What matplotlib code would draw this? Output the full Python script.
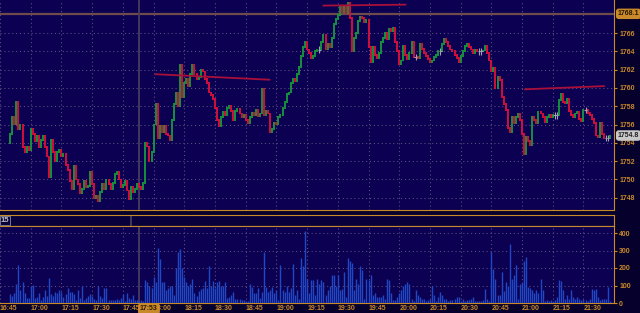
import matplotlib
matplotlib.use("Agg")
import matplotlib.pyplot as plt
import matplotlib.transforms as mtransforms
import numpy as np

# one-minute closes starting at 16:50
first_open = 1754.0
closes = [
    1755.0, 1756.8, 1756.0, 1758.5, 1755.5, 1756.0, 1753.5, 1753.0, 1753.5, 1753.2,
    1755.5, 1755.0, 1754.2, 1754.8, 1753.5, 1754.3, 1754.8, 1753.5, 1752.5, 1750.3,
    1754.3, 1753.0, 1752.0, 1753.0, 1753.2, 1752.5, 1752.8, 1751.6, 1751.0, 1749.8,
    1749.0, 1751.5, 1750.0, 1749.5, 1748.5, 1749.0, 1749.8, 1749.2, 1749.3, 1750.8,
    1749.5, 1748.0, 1748.2, 1747.6, 1748.6, 1749.5, 1749.0, 1750.0, 1749.5, 1749.0,
    1749.6, 1750.6, 1750.8, 1750.0, 1749.2, 1749.4, 1749.8, 1748.8, 1747.8, 1749.2,
    1748.6, 1749.0, 1749.5, 1749.2, 1749.0, 1749.6, 1754.0, 1753.6, 1752.0, 1753.0,
    1756.0, 1758.2, 1754.5, 1755.8, 1755.2, 1755.8, 1755.0, 1754.8, 1754.3, 1756.5,
    1758.2, 1759.5, 1758.0, 1762.5, 1759.0, 1760.5, 1761.0, 1760.2, 1761.5, 1762.5,
    1761.5, 1761.0, 1761.2, 1762.0, 1761.8, 1761.0, 1760.5, 1759.5, 1759.2, 1758.8,
    1757.8, 1756.5, 1755.8, 1756.8, 1757.4, 1757.0, 1757.8, 1758.0, 1757.5, 1756.5,
    1757.5, 1757.7, 1757.2, 1756.8, 1757.0, 1756.5, 1756.2, 1756.8, 1757.3, 1757.0,
    1757.6, 1756.9, 1757.2, 1759.9, 1757.0, 1757.5, 1757.2, 1755.2, 1755.5, 1756.2,
    1756.0, 1756.8, 1757.0, 1757.8, 1758.5, 1759.3, 1759.5, 1760.5, 1761.0, 1760.7,
    1761.5, 1762.3, 1763.5, 1764.5, 1765.0, 1764.2, 1763.8, 1763.3, 1763.5, 1764.0,
    1764.2, 1764.2, 1765.0, 1765.8, 1764.3, 1764.8, 1764.5, 1765.5, 1767.0, 1767.5,
    1768.0, 1768.8, 1768.3, 1768.9, 1768.2, 1769.3, 1767.6, 1764.0, 1765.5, 1766.0,
    1767.3, 1767.8, 1767.6, 1767.2, 1767.4, 1764.5, 1762.8, 1764.5, 1763.6, 1763.3,
    1763.8, 1765.0, 1765.5, 1766.0, 1765.3, 1766.5, 1766.2, 1766.6, 1765.0, 1764.0,
    1762.6, 1763.0, 1764.6, 1763.6, 1763.2, 1763.8, 1765.0, 1763.4, 1763.4, 1763.3,
    1764.8, 1764.3, 1763.8, 1763.5, 1763.2, 1762.8, 1763.0, 1763.4, 1763.6, 1764.0,
    1764.0, 1764.8, 1765.4, 1765.0, 1764.6, 1764.2, 1764.0, 1763.6, 1763.3, 1762.8,
    1763.5, 1764.0, 1764.6, 1764.8, 1764.5, 1764.2, 1763.8, 1764.2, 1764.0, 1764.0,
    1764.0, 1764.1, 1764.6, 1763.8, 1763.0, 1761.8, 1762.2, 1760.0, 1761.2, 1760.9,
    1759.0, 1758.2, 1757.6, 1755.6, 1755.2, 1756.8, 1756.2, 1756.8, 1757.2, 1756.5,
    1755.0, 1752.8, 1754.6, 1754.2, 1753.8, 1756.8, 1756.5, 1756.2, 1757.4, 1757.2,
    1756.8, 1756.3, 1756.8, 1757.1, 1756.8, 1757.0, 1757.0, 1757.0, 1758.7, 1759.4,
    1758.5, 1758.3, 1758.8, 1757.5, 1757.0, 1756.8, 1757.2, 1757.4, 1756.6, 1756.4,
    1757.6, 1757.6, 1757.3, 1757.0, 1756.6, 1756.2, 1754.8, 1754.6, 1756.2, 1755.0,
    1754.5, 1754.5, 1754.5, 1754.8,
]

volumes = [
    50, 40, 60, 110, 220, 75, 120, 55, 30, 30,
    95, 105, 30, 35, 55, 20, 35, 75, 40, 145,
    50, 40, 65, 55, 75, 65, 35, 50, 85, 65,
    65, 50, 20, 75, 30, 95, 20, 30, 40, 50,
    40, 25, 20, 95, 40, 30, 85, 85, 20, 20,
    15, 20, 25, 20, 30, 50, 10, 60, 30, 25,
    45, 20, 15, 10, 15, 10, 130, 120, 100, 85,
    150, 120, 315, 250, 120, 120, 75, 85, 100, 100,
    45, 200, 290, 310, 200, 150, 120, 95, 110, 140,
    60, 40, 70, 80, 85, 125, 85, 210, 100, 125,
    85, 120, 125, 100, 100, 120, 30, 35, 45, 65,
    25, 25, 25, 20, 15, 10, 10, 110, 90, 60,
    60, 85, 30, 65, 290, 90, 65, 75, 90, 55,
    75, 15, 220, 75, 65, 100, 65, 85, 225, 45,
    75, 25, 260, 210, 410, 140, 60, 130, 130, 45,
    140, 110, 130, 120, 45, 75, 100, 160, 160, 100,
    160, 75, 80, 180, 35, 255, 240, 230, 75, 140,
    110, 210, 190, 25, 140, 130, 160, 45, 60, 35,
    35, 35, 45, 25, 140, 130, 55, 15, 15, 35,
    55, 75, 95, 110, 120, 110, 25, 10, 75, 45,
    35, 25, 25, 10, 15, 25, 95, 45, 10, 35,
    65, 45, 25, 25, 10, 15, 15, 25, 35, 35,
    10, 25, 10, 15, 15, 25, 35, 10, 10, 10,
    10, 15, 80, 25, 10, 290, 195, 140, 45, 45,
    180, 70, 120, 100, 335, 140, 160, 220, 25, 110,
    120, 240, 265, 90, 85, 75, 55, 75, 55, 140,
    75, 10, 15, 10, 15, 10, 15, 35, 130, 125,
    75, 25, 45, 25, 75, 35, 25, 35, 25, 15,
    25, 15, 10, 25, 80, 75, 80, 35, 15, 25,
    25, 25, 90, 10,
]

time_labels = ["16:45", "17:00", "17:15", "17:30", "17:45", "18:00", "18:15", "18:30",
               "18:45", "19:00", "19:15", "19:30", "19:45", "20:00", "20:15", "20:30",
               "20:45", "21:00", "21:15", "21:30"]
price_ticks = [1748, 1750, 1752, 1754, 1756, 1758, 1760, 1762, 1764, 1766]
volume_ticks = [0, 100, 200, 300, 400]

level_price = 1768.1
last_price = 1754.8
cursor_label = "17:53"
trend_lines = [
    ((71, 1761.5), (126.5, 1760.9)),
    ((153, 1769.0), (193, 1769.1)),
    ((251.5, 1759.85), (290, 1760.2)),
]


def to_minutes(label):
    h, m = label.split(":")
    return int(h) * 60 + int(m) - (16 * 60 + 50)


plt.rcParams["font.family"] = ["Liberation Sans", "DejaVu Sans"]
plt.rcParams["font.weight"] = "bold"

W, H = 640, 313
bg = "#0b0052"
axis_bg = "#06002c"
orange = "#c8892a"
grid_col = "#5c4d7a"
green = "#16963c"
red = "#d8103a"
doji_col = "#a0a0b0"
fs = 5.0


def rect(x0, y0, x1, y1):
    return [x0 / W, 1 - y1 / H, (x1 - x0) / W, (y1 - y0) / H]


fig = plt.figure(figsize=(W / 100, H / 100), dpi=100, facecolor=axis_bg)
ax = fig.add_axes(rect(0, 0, 614, 210), facecolor=bg)
strip = fig.add_axes(rect(0, 215, 614, 226), facecolor="#07003a")
vax = fig.add_axes(rect(0, 226, 614, 303), facecolor=bg)

xlim = (-0.09, 294.9)
grid_x = [to_minutes(t) for t in time_labels]
cursor_t = to_minutes(cursor_label)

# candles: open is the previous close
t = np.arange(len(closes))
c = np.array(closes)
o = np.array([first_open] + closes[:-1])
up = c > o
dn = c < o
doji = c == o
ax.vlines(t[up], o[up] - 0.1, c[up] + 0.1, color=green, lw=1.35, zorder=3)
ax.vlines(t[dn], c[dn] - 0.1, o[dn] + 0.1, color=red, lw=1.35, zorder=3)
ax.vlines(t[doji], c[doji] - 0.35, c[doji] + 0.35, color=doji_col, lw=0.8, zorder=3)
ax.hlines(c[doji], t[doji] - 0.7, t[doji] + 0.7, color=doji_col, lw=0.8, zorder=3)

for (t0, p0), (t1, p1) in trend_lines:
    ax.plot([t0, t1], [p0, p1], color="#a8103a", lw=1.3, zorder=4)

ax.axhline(level_price, color="#6e4c4c", lw=1.6, zorder=2)

ax.set_xlim(*xlim)
ax.set_ylim(1746.66, 1769.61)
ax.set_xticks(grid_x)
ax.set_yticks(price_ticks)
ax.yaxis.tick_right()
ax.tick_params(axis="y", colors=orange, labelsize=fs, length=2.5, pad=1.2, width=0.8)
ax.tick_params(axis="x", length=0, labelbottom=False)
ax.grid(True, color=grid_col, linestyle=(0, (1, 2.5)), lw=0.8, zorder=1)
for s in ["top", "left"]:
    ax.spines[s].set_visible(False)
ax.spines["right"].set_color(orange)
ax.spines["bottom"].set_color(orange)

ytr = mtransforms.blended_transform_factory(ax.transAxes, ax.transData)
ax.text(1.006, level_price, "1768.1", transform=ytr, fontsize=fs, color="#2a1800",
        va="center", ha="left", clip_on=False, zorder=6,
        bbox=dict(boxstyle="round,pad=0.15,rounding_size=0.3", fc=orange, ec=orange))
ax.text(1.006, last_price, "1754.8", transform=ytr, fontsize=fs, color="#202020",
        va="center", ha="left", clip_on=False, zorder=6,
        bbox=dict(boxstyle="round,pad=0.15,rounding_size=0.3", fc="#c8c8c8", ec="#c8c8c8"))

# separator strip
strip.set_xlim(*xlim)
strip.set_xticks([])
strip.set_yticks([])
for s in strip.spines.values():
    s.set_color(orange)
strip.spines["left"].set_visible(False)
strip.text(0.3, 0.5, "15", transform=mtransforms.blended_transform_factory(strip.transData, strip.transAxes),
           fontsize=fs + 0.5, color="#c0c0c0", va="center", ha="left",
           bbox=dict(boxstyle="square,pad=0.15", fc="#07003a", ec="#8a8a9a", lw=0.6))

# volume
vt = np.arange(len(volumes))
vax.vlines(vt, 0, volumes, color="#2148c4", lw=1.0, zorder=3)
vax.set_xlim(*xlim)
vax.set_ylim(0, 440)
vax.set_xticks(grid_x)
vax.set_yticks(volume_ticks)
vax.yaxis.tick_right()
vax.tick_params(axis="y", colors=orange, labelsize=fs, length=2.5, pad=1.2, width=0.8)
vax.tick_params(axis="x", length=0, labelbottom=False)
vax.grid(True, color=grid_col, linestyle=(0, (1, 2.5)), lw=0.8, zorder=1)
vax.spines["left"].set_visible(False)
for s in ["top", "bottom", "right"]:
    vax.spines[s].set_color(orange)

xtr = mtransforms.blended_transform_factory(vax.transData, vax.transAxes)
for lab, gx in zip(time_labels, grid_x):
    vax.text(gx, -0.03, lab, transform=xtr, fontsize=fs, color=orange,
             ha="left", va="top", clip_on=False)
vax.text(cursor_t + 0.4, -0.03, cursor_label, transform=xtr, fontsize=fs, color="#2a1800",
         ha="left", va="top", clip_on=False, zorder=6,
         bbox=dict(boxstyle="round,pad=0.2,rounding_size=0.3", fc=orange, ec=orange))

for a in (ax, strip, vax):
    a.axvline(cursor_t, color="#4a3c5c", lw=1.3, zorder=2)

fig.savefig("out.png", dpi=100, facecolor=fig.get_facecolor())
